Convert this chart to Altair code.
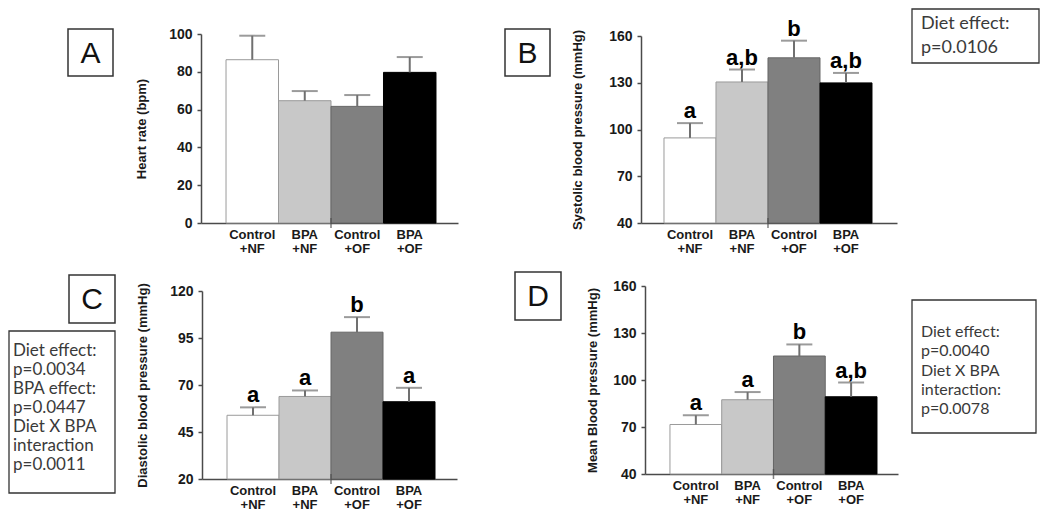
import altair as alt
import pandas as pd

groups = ["Control +NF", "BPA +NF", "Control +OF", "BPA +OF"]
bar_fill = ["#ffffff", "#c8c8c8", "#808080", "#000000"]
bar_edge = ["#9a9a9a", "#9a9a9a", "#666666", "#000000"]

hr_mean = [86.4, 64.7, 61.7, 79.7]
hr_upper = [99.1, 69.8, 67.7, 87.8]
hr_letters = ["", "", "", ""]

sbp_mean = [94.6, 130.5, 146.0, 129.9]
sbp_upper = [104.1, 138.5, 157.0, 136.3]
sbp_letters = ["a", "a,b", "b", "a,b"]

dbp_mean = [53.9, 63.9, 98.1, 61.1]
dbp_upper = [58.1, 67.1, 106.1, 68.5]
dbp_letters = ["a", "a", "b", "a"]

mbp_mean = [71.6, 87.4, 115.3, 89.3]
mbp_upper = [77.5, 92.3, 122.7, 98.4]
mbp_letters = ["a", "a", "b", "a,b"]

y_titles = ["Heart rate (bpm)", "Systolic blood pressure (mmHg)",
            "Diastolic blood pressure (mmHg)", "Mean Blood pressure (mmHg)"]
y_domains = [[0, 100], [40, 160], [20, 120], [40, 160]]
y_ticks = [[0, 20, 40, 60, 80, 100], [40, 70, 100, 130, 160],
           [20, 45, 70, 95, 120], [40, 70, 100, 130, 160]]
panel_tags = ["A", "B", "C", "D"]
notes_b = "Diet effect:\np=0.0106"
notes_c = "Diet effect:\np=0.0034\nBPA effect:\np=0.0447\nDiet X BPA\ninteraction\np=0.0011"
notes_d = "Diet effect:\np=0.0040\nDiet X BPA\ninteraction:\np=0.0078"

AX = "#4a4a4a"
ERR = "#707070"
FONT = "Liberation Sans"
W, H = 257, 193


def panel(mean, upper, letters, ytitle, ydom, yticks, xrng, yrng, po, al,
          tpad, xoff, yoff, tag, tagbox, note=None, notebox=None,
          notepos=None, notesize=17, notelh=19):
    df = pd.DataFrame({"group": groups, "mean": mean, "upper": upper,
                       "letter": letters})
    xs = alt.Scale(domain=groups, range=xrng, paddingInner=0,
                   paddingOuter=po, align=al)
    ys = alt.Scale(domain=ydom, range=yrng, nice=False, zero=False)
    xaxis = alt.Axis(title=None, labelExpr="split(datum.label, ' ')",
                     labelAngle=0, ticks=False, domainColor=AX,
                     domainWidth=1.5, labelFont=FONT, labelFontWeight="bold",
                     labelFontSize=13, labelColor="#1a1a1a", labelPadding=5,
                     labelLineHeight=14, offset=xoff)
    yaxis = alt.Axis(title=ytitle, values=yticks, grid=False, domainColor=AX,
                     domainWidth=1.5, tickColor=AX, tickWidth=1.5, tickSize=4,
                     labelFont=FONT, labelFontWeight="bold", labelFontSize=14,
                     labelColor="#1a1a1a", labelPadding=5, titleFont=FONT,
                     titleFontWeight="bold", titleFontSize=13,
                     titleColor="#1a1a1a", titlePadding=tpad, offset=yoff)

    def X(**kw):
        return alt.X("group:N", scale=xs, axis=xaxis, **kw)

    def Y(f):
        return alt.Y(f, type="quantitative", scale=ys, axis=yaxis)

    base = alt.Chart(df)
    bars = base.mark_bar(strokeWidth=1).encode(
        x=X(), y=Y("mean"), y2=alt.datum(ydom[0]),
        fill=alt.Fill("group:N", scale=alt.Scale(domain=groups, range=bar_fill), legend=None),
        stroke=alt.Stroke("group:N", scale=alt.Scale(domain=groups, range=bar_edge), legend=None),
    )
    stems = base.mark_rule(color=ERR, strokeWidth=2).encode(
        x=X(), y=Y("mean"), y2="upper")
    caps = base.mark_tick(color=ERR, thickness=2, size=26,
                          orient="horizontal").encode(x=X(), y=Y("upper"))
    lets = base.mark_text(font=FONT, fontWeight="bold", fontSize=22, dy=-5,
                          baseline="alphabetic", color="#000").encode(
        x=X(), y=Y("upper"), text="letter:N")
    mid = alt.Chart(pd.DataFrame({"group": [groups[2]], "base": [ydom[0]]})).mark_tick(
        orient="vertical", size=10, thickness=1.5, color=AX).encode(
        x=X(bandPosition=0), y=Y("base"))

    tdf = alt.Chart(pd.DataFrame({"t": [tag]}))
    tbox = tdf.mark_rect(fill="white", stroke="#333", strokeWidth=1.5).encode(
        x=alt.value(tagbox[0]), x2=alt.value(tagbox[1]),
        y=alt.value(tagbox[2]), y2=alt.value(tagbox[3]))
    ttxt = tdf.mark_text(font=FONT, fontSize=30, color="#111", align="center",
                         baseline="middle").encode(
        x=alt.value((tagbox[0] + tagbox[1]) / 2),
        y=alt.value((tagbox[2] + tagbox[3]) / 2 + 1), text="t:N")
    layers = [tbox, ttxt, bars, stems, caps, lets, mid]
    if note is not None:
        ndf = alt.Chart(pd.DataFrame({"t": [note]}))
        nbox = ndf.mark_rect(fill="white", stroke="#333", strokeWidth=1.3).encode(
            x=alt.value(notebox[0]), x2=alt.value(notebox[1]),
            y=alt.value(notebox[2]), y2=alt.value(notebox[3]))
        ntxt = ndf.mark_text(font="Lato", fontSize=notesize, color="#3a3a3a",
                             align="left", baseline="middle", lineBreak="\n",
                             lineHeight=notelh).encode(
            x=alt.value(notepos[0]), y=alt.value(notepos[1]), text="t:N")
        layers += [nbox, ntxt]
    return alt.layer(*layers).properties(width=W, height=H)


pA = panel(hr_mean, hr_upper, hr_letters, y_titles[0], y_domains[0], y_ticks[0],
           [0, 257], [189, 0], 0.448, 0.532, 20, -4, 0, panel_tags[0],
           [-133, -88, -5, 42])
pB = panel(sbp_mean, sbp_upper, sbp_letters, y_titles[1], y_domains[1], y_ticks[1],
           [0, 256], [189, 2], 0.4615, 0.479, 24, -4, 0, panel_tags[1],
           [-136, -91, -5, 42], notes_b, [271, 398, -25, 29], [280, -10], 18, 24)
pC = panel(dbp_mean, dbp_upper, dbp_letters, y_titles[2], y_domains[2], y_ticks[2],
           [1, 256], [193, 5], 0.452, 0.532, 20, 0, -1, panel_tags[2],
           [-132, -86, -11, 37], notes_c, [-192, -86, 45, 207], [-188, 65], 17, 19)
pD = panel(mbp_mean, mbp_upper, mbp_letters, y_titles[3], y_domains[3], y_ticks[3],
           [4, 257], [188, 0], 0.444, 0.543, 13, -5, -4, panel_tags[3],
           [-126, -80, -14, 34], notes_d, [271, 395, 14, 147], [280, 46], 16, 19.3)

chart = alt.concat(pA, pB, pC, pD, columns=2).properties(
    spacing={"row": 59, "column": 183}, bounds="flush", padding=0,
).configure_view(stroke=None)

chart.save("out.html", embed_options={"renderer": "svg", "actions": False})
